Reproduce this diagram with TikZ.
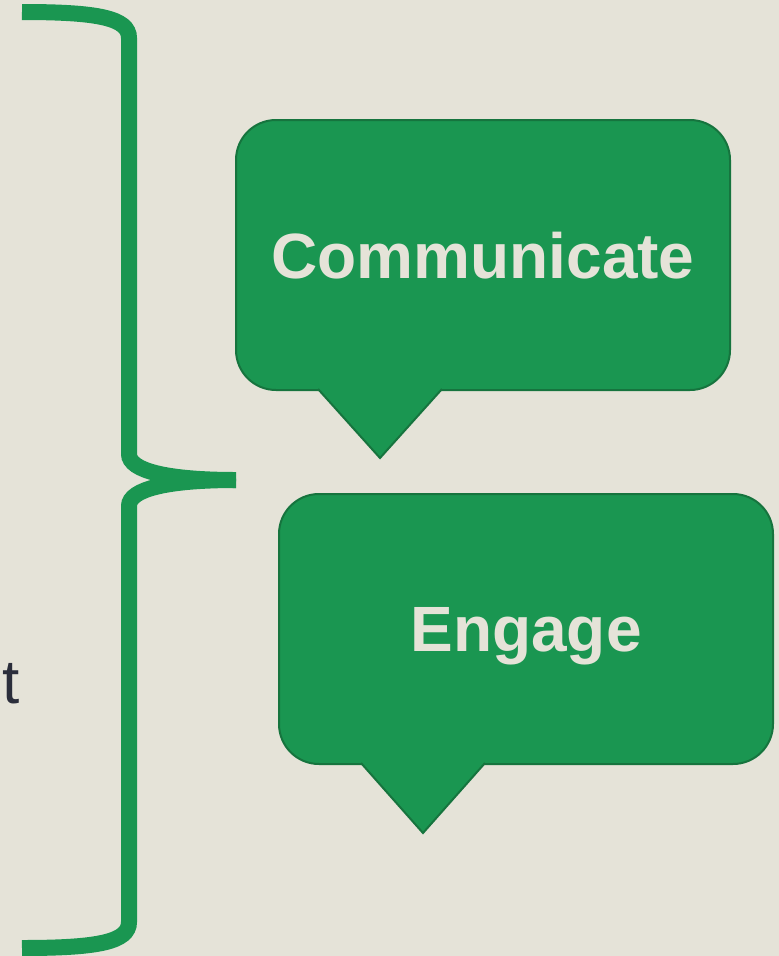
\documentclass[tikz,border=0pt]{standalone}
\usepackage{fontspec}
\setmainfont{Liberation Sans}
\usetikzlibrary{calc}

\definecolor{paper}{HTML}{E5E3D8}
\definecolor{leaf}{HTML}{1A9651}
\definecolor{leafdark}{HTML}{16743E}
\definecolor{ink}{HTML}{2B2E3B}

\tikzset{
    bubble/.style={rectangle, rounded corners=40pt, fill=leaf, draw=leafdark, line width=2pt,
        minimum width=494pt, minimum height=270pt, text=paper, text depth=0pt,
        font=\fontsize{64}{76}\selectfont\bfseries},
    pointer/.style={fill=leaf, draw=leafdark, line width=2pt, line join=miter},
    brace/.style={draw=leaf, line width=16pt, line cap=butt}
}

\begin{document}
\begin{tikzpicture}[x=1pt, y=-1pt]
    % Define picture dimensions
    \def\W{779} % width
    \def\H{956} % height
    \def\half{62} % half base of a pointer

    % Background
    \fill[paper] (0,0) rectangle (\W,\H);
    \useasboundingbox (0,0) rectangle (\W,\H);

    % The brace on the left
    \draw[brace] (22,12) .. controls (98,12) and (129,18) .. (129,38) -- (129,454)
        .. controls (129,471) and (168,480) .. (236,480);
    \draw[brace] (236,480) .. controls (168,480) and (129,489) .. (129,506) -- (129,922)
        .. controls (129,942) and (98,948) .. (22,948);

    % Cut-off word on the left
    \node[anchor=base west, inner sep=0pt, text=ink, font=\fontsize{62}{74}\selectfont] (word) at (2,703) {t};

    % Speech bubbles
    \node[bubble] (comm) at (483,255) {Communicate};
    \node[bubble] (eng) at (526,629) {Engage};

    % Pointer tips
    \coordinate (commtip) at (380,458);
    \coordinate (engtip) at (423,833);

    % Pointers below the bubbles
    \filldraw[pointer] ($(comm.south)+(-483+380-\half,-2)$) -- (commtip) -- ($(comm.south)+(-483+380+\half,-2)$);
    \filldraw[pointer] ($(eng.south)+(-526+423-\half,-2)$) -- (engtip) -- ($(eng.south)+(-526+423+\half,-2)$);

\end{tikzpicture}
\end{document}
